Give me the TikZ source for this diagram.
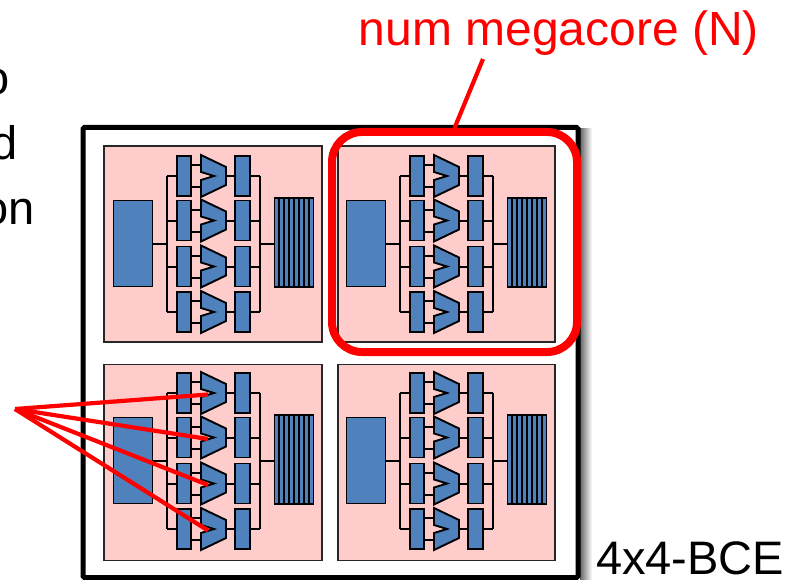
\documentclass[tikz,border=0pt]{standalone}
\usepackage{fontspec}
\setmainfont{Liberation Sans}
\definecolor{coreblue}{HTML}{4F81BD}
\definecolor{tilepink}{HTML}{FFCCCC}
\tikzset{
    blockbox/.style={rectangle, draw=black, fill=coreblue, line width=1.9pt, inner sep=0pt},
    barbox/.style={blockbox, minimum width=14.5, minimum height=40},
    tilebox/.style={rectangle, draw=black!85, fill=tilepink, line width=1.6pt, inner sep=0pt},
    muxshape/.style={draw=black, fill=coreblue, line width=1.9pt, line join=miter},
    wire/.style={draw=black, line width=2pt},
    redline/.style={draw=red, line width=4.2pt},
    bigtext/.style={inner sep=0pt, font=\fontsize{47}{50}\selectfont},
    megacore/.pic={
        % Memory and register file
        \node [blockbox, minimum width=39, minimum height=86] (-ram) at (29,97.5) {};
        \node [blockbox, minimum width=39, minimum height=89] (-regs) at (190,96.5) {};
        \foreach \x in {175,180,...,205} \draw [black, line width=1.2pt] (\x,52) -- (\x,141);
        % Pipelines
        \foreach \i/\y in {1/30,2/74.5,3/120.5,4/166} {
            \node [barbox] (-l\i) at (80,\y) {};
            \node [barbox] (-r\i) at (138.5,\y) {};
            \draw [muxshape, shift={(0,\y)}] (97,-21) -- (122,-9) -- (122,9) -- (97,21) -- (97,4) -- (110,0) -- (97,-4) -- cycle;
            \coordinate (-ma\i) at (97,\y-11);
            \coordinate (-mb\i) at (97,\y+11);
            \coordinate (-mo\i) at (122,\y);
            \coordinate (-m\i) at (104,\y+1.5);
            \coordinate (-bus\i) at (63,\y);
            \coordinate (-rbus\i) at (156,\y);
            \draw [wire] (-bus\i) -- (-l\i);
            \draw [wire] (-ma\i -| -l\i.east) -- (-ma\i);
            \draw [wire] (-mb\i -| -l\i.east) -- (-mb\i);
            \draw [wire] (-mo\i) -- (-r\i);
            \draw [wire] (-r\i) -- (-rbus\i);
        }
        % Buses
        \draw [wire] (-bus1) -- (-bus4);
        \draw [wire] (-rbus1) -- (-rbus4);
        \draw [wire] (-ram.east) -- (-ram.east -| -bus1);
        \draw [wire] (-regs.west |- -ram.east) -- (-ram.east -| -rbus1);
    }
}
\begin{document}
\begin{tikzpicture}[x=1pt, y=-1pt]
    \useasboundingbox (0,0) rectangle (797,580);

    % Chip
    \shade [left color=black!60, right color=white] (580,129) rectangle (592,580);
    \node [rectangle, draw=black, fill=white, line width=5pt, rounded corners=1.5, inner sep=0pt, minimum width=495, minimum height=450] (chip) at (330.5,352.5) {};

    % Tiles
    \node [tilebox, minimum width=218, minimum height=196] (tile1) at (213,244) {};
    \node [tilebox, minimum width=217, minimum height=196] (tile2) at (446.5,244) {};
    \node [tilebox, minimum width=218, minimum height=196] (tile3) at (213,462.5) {};
    \node [tilebox, minimum width=217, minimum height=196] (tile4) at (446.5,462.5) {};
    \pic (core1) at (104,146) {megacore};
    \pic (core2) at (337,146) {megacore};
    \pic (core3) at (104,363) {megacore};
    \pic (core4) at (337,363) {megacore};

    % Labels
    \node [bigtext, red, anchor=base, font=\fontsize{48}{50}\selectfont] (numlabel) at (559,46) {num megacore (N)};
    \node [bigtext, anchor=base west] (bcelabel) at (596,574) {4x4-BCE};
    \node [bigtext, anchor=base east] (cuta) at (10,95) {o};
    \node [bigtext, anchor=base east] (cutb) at (17.5,160) {d};
    \node [bigtext, anchor=base east] (cutc) at (35,224) {on};

    % Highlight
    \node [rectangle, draw=red, line width=8pt, rounded corners=30, inner sep=0pt, minimum width=245, minimum height=220] (megaring) at (454.5,242) {};
    \coordinate (leadtop) at (483,59);
    \draw [redline] (leadtop) -- (megaring.north);

    % Pointers to the muxes
    \coordinate (fan) at (15,409);
    \foreach \i in {1,...,4} \draw [redline] (fan) -- (core3-m\i);
\end{tikzpicture}
\end{document}
